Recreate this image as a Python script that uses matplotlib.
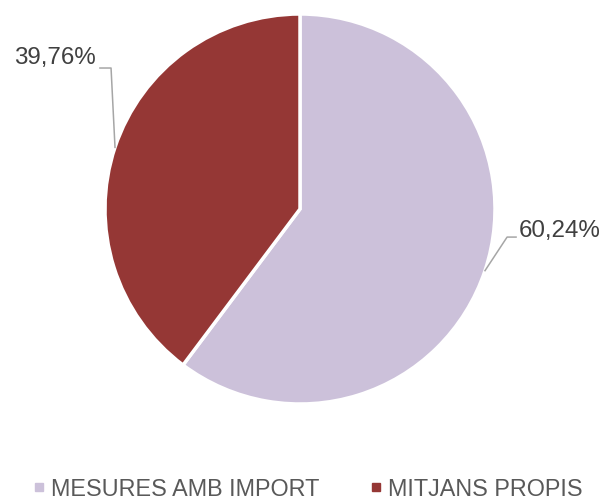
import numpy as np
import matplotlib.pyplot as plt
from matplotlib.lines import Line2D

plt.rcParams['font.family'] = ['Liberation Sans', 'DejaVu Sans']

# dades
categories = ['MESURES AMB IMPORT', 'MITJANS PROPIS']
values = [60.24, 39.76]
labels = ['60,24%', '39,76%']
colors = ['#CCC1DA', '#953735']

fig = plt.figure(figsize=(6.05, 5.0), dpi=100)
ax = fig.add_axes([105 / 605, (500 - 209 - 195) / 500, 390 / 605, 390 / 500])

wedges, _ = ax.pie(values, colors=colors, startangle=90, counterclock=False,
                   radius=1, wedgeprops=dict(edgecolor='white', linewidth=2.5))
ax.set_xlim(-1, 1)
ax.set_ylim(-1, 1)
ax.set_aspect('equal')

# etiquetes amb línies guia
line_kw = dict(color='#A6A6A6', lw=1.1, clip_on=False)
for i, w in enumerate(wedges):
    ang = np.deg2rad((w.theta1 + w.theta2) / 2)
    x0, y0 = np.cos(ang), np.sin(ang)
    if x0 > 0:
        xb, yb = 1.062, -0.144
        xe = 1.108
        ax.plot([x0, xb, xe], [y0, yb, yb], **line_kw)
        ax.text(xe + 0.015, yb + 0.03, labels[i], ha='left', va='center',
                fontsize=17.4, color='#404040', clip_on=False)
    else:
        xb, yb = -0.969, 0.723
        xe = -1.026
        ax.plot([x0, xb, xe], [y0, yb, yb], **line_kw)
        ax.text(xe - 0.02, yb + 0.05, labels[i], ha='right', va='center',
                fontsize=17.4, color='#404040', clip_on=False)

# llegenda
handles = [Line2D([], [], marker='s', ls='', color=c, markersize=5.8) for c in colors]
fig.legend(handles, categories, loc='center', bbox_to_anchor=(0.508, 1 - 489 / 500),
           ncol=2, frameon=False, fontsize=16.8, labelcolor='#595959',
           handlelength=0.6, handletextpad=0.24, columnspacing=2.1)

fig.savefig('out.png', dpi=100)
